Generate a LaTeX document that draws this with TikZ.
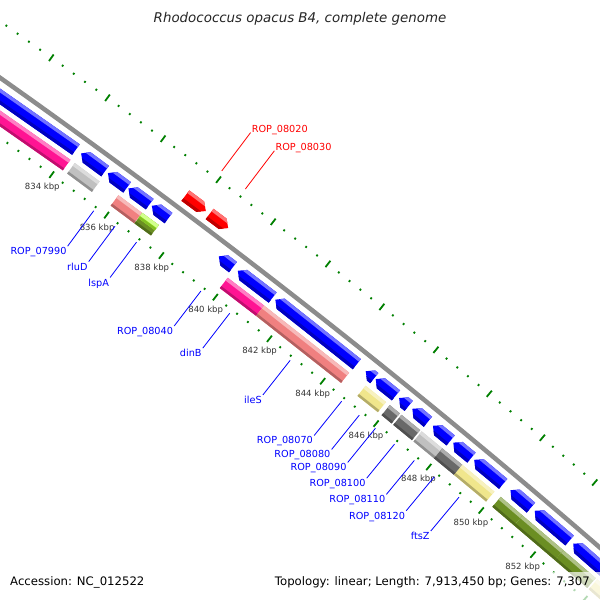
\documentclass[tikz,border=0pt]{standalone}
\usepackage{fontspec}
\setmainfont{DejaVu Sans}
\definecolor{cdsblue}{RGB}{0,0,255}
\definecolor{cdsred}{RGB}{255,0,0}
\definecolor{cogpink}{RGB}{255,20,147}
\definecolor{cogsalmon}{RGB}{240,128,128}
\definecolor{cogsilver}{RGB}{192,192,192}
\definecolor{cogdim}{RGB}{105,105,105}
\definecolor{cogkhaki}{RGB}{240,230,140}
\definecolor{cogolive}{RGB}{107,142,35}
\definecolor{coglime}{RGB}{173,255,47}
\definecolor{tickgreen}{RGB}{0,128,0}
\definecolor{backbonegray}{RGB}{140,140,140}

% bar of the COG ring: start kbp, end kbp, inner r, outer r, colour
\newcommand{\gbox}[5]{%
  \pgfmathsetmacro\gA{54.03-0.2556*(#1-834)}%
  \pgfmathsetmacro\gB{54.03-0.2556*(#2-834)}%
  \pgfmathsetmacro\gC{#4-3.5}%
  \pgfmathsetmacro\gD{#3+2.5}%
  \fill[#5] (\gA:#3) -- (\gA:#4) -- (\gB:#4) -- (\gB:#3) -- cycle;
  \fill[#5!55!white] (\gA:\gC) -- (\gA:#4) -- (\gB:#4) -- (\gB:\gC) -- cycle;
  \fill[#5!75!black] (\gA:#3) -- (\gA:\gD) -- (\gB:\gD) -- (\gB:#3) -- cycle;
}
% reverse strand gene, tip at start
\newcommand{\revgene}[3]{%
  \pgfmathsetmacro\gA{54.03-0.2556*(#1-834)}%
  \pgfmathsetmacro\gH{54.03-0.2556*(#1+0.2-834)}%
  \pgfmathsetmacro\gT{54.03-0.2556*(#1+0.1-834)}%
  \pgfmathsetmacro\gB{54.03-0.2556*(#2-834)}%
  \fill[#3] (\gA:7673.5) -- (\gH:7680) -- (\gB:7680) -- (\gB:7667) -- (\gH:7667) -- cycle;
  \fill[#3!55!white] (\gT:7676.75) -- (\gH:7680) -- (\gB:7680) -- (\gB:7676.75) -- cycle;
  \fill[#3!75!black] (\gT:7670.25) -- (\gH:7667) -- (\gB:7667) -- (\gB:7670.25) -- cycle;
}
% forward strand gene, tip at end
\newcommand{\fwdgene}[3]{%
  \pgfmathsetmacro\gA{54.03-0.2556*(#1-834)}%
  \pgfmathsetmacro\gB{54.03-0.2556*(#2-834)}%
  \pgfmathsetmacro\gH{54.03-0.2556*(#2-0.2-834)}%
  \pgfmathsetmacro\gT{54.03-0.2556*(#2-0.1-834)}%
  \fill[#3] (\gA:7695) -- (\gA:7708) -- (\gH:7708) -- (\gB:7701.5) -- (\gH:7695) -- cycle;
  \fill[#3!55!white] (\gA:7704.75) -- (\gA:7708) -- (\gH:7708) -- (\gT:7704.75) -- cycle;
  \fill[#3!75!black] (\gA:7695) -- (\gA:7698.25) -- (\gT:7698.25) -- (\gH:7695) -- cycle;
}

\tikzset{
  majortick/.style={tickgreen, line width=1.8},
  minortick/.style={tickgreen, line width=1.8},
  kbplabel/.style={text=black!80, font=\fontsize{8.5}{10}\selectfont, inner sep=0},
  bluename/.style={text=cdsblue, font=\fontsize{9.7}{11}\selectfont, inner sep=1pt, anchor=north east},
  redname/.style={text=cdsred, font=\fontsize{9.7}{11}\selectfont, inner sep=1pt, anchor=base west},
  bluelink/.style={cdsblue, line width=0.8},
  redlink/.style={cdsred, line width=0.8},
  legend/.style={text=black, font=\fontsize{11.7}{14}\selectfont, inner sep=0}
}

\begin{document}
\begin{tikzpicture}[x=1pt,y=1pt]
\useasboundingbox (0,0) rectangle (600,600);
\fill[white] (0,0) rectangle (600,600);
\begin{scope}
\clip (0,0) rectangle (600,600);
\begin{scope}[shift={(-4435,-5757)}]
% COG ring
\gbox{826}{834.19}{7649}{7662}{cogpink}
\gbox{834.35}{835.25}{7649}{7662}{cogsilver}
\gbox{835.93}{836.79}{7649}{7662}{cogsalmon}
\gbox{836.80}{837.40}{7649}{7662}{cogolive}
\gbox{836.80}{837.40}{7655.5}{7662}{coglime}
\gbox{839.94}{841.28}{7649}{7662}{cogpink}
\gbox{841.28}{844.45}{7649}{7662}{cogsalmon}
\gbox{845.06}{845.83}{7649}{7662}{cogkhaki}
\gbox{845.97}{846.35}{7649}{7662}{cogdim}
\gbox{846.41}{847.12}{7649}{7662}{cogdim}
\gbox{847.18}{847.96}{7649}{7662}{cogsilver}
\gbox{847.96}{848.72}{7649}{7662}{cogdim}
\gbox{848.72}{849.94}{7649}{7662}{cogkhaki}
\gbox{850.18}{851.02}{7649}{7662}{cogolive}
\gbox{851.02}{852.59}{7649}{7662}{cogolive}
\gbox{852.59}{853.84}{7649}{7662}{cogolive}
\gbox{853.90}{856}{7649}{7662}{cogkhaki}
% reverse strand
\revgene{826}{834.14}{cdsblue}
\revgene{834.33}{835.20}{cdsblue}
\revgene{835.30}{836.00}{cdsblue}
\revgene{836.05}{836.82}{cdsblue}
\revgene{836.90}{837.51}{cdsblue}
\revgene{839.35}{839.87}{cdsblue}
\revgene{840.05}{841.33}{cdsblue}
\revgene{841.43}{844.47}{cdsblue}
\revgene{844.80}{845.12}{cdsblue}
\revgene{845.17}{845.93}{cdsblue}
\revgene{846.05}{846.41}{cdsblue}
\revgene{846.55}{847.14}{cdsblue}
\revgene{847.33}{848.00}{cdsblue}
\revgene{848.10}{848.79}{cdsblue}
\revgene{848.89}{849.99}{cdsblue}
\revgene{850.27}{851.06}{cdsblue}
\revgene{851.20}{852.54}{cdsblue}
\revgene{852.68}{856}{cdsblue}
% forward strand
\fwdgene{837.51}{838.25}{cdsred}
\fwdgene{838.39}{839.07}{cdsred}
% backbone
\draw[backbonegray, line width=4.5] (55.6:7688) arc[start angle=55.6, end angle=48.4, radius=7688pt];
% ticks, inner and outer
\foreach \i in {0,...,80}{
  \pgfmathsetmacro\ta{54.03-0.2556*(826+0.4*\i-834)}
  \pgfmathtruncatemacro\tm{mod(\i,5)}
  \ifnum\tm=0
    \draw[majortick] (\ta:7635) -- (\ta:7643);
    \draw[majortick] (\ta:7730) -- (\ta:7738);
  \else
    \draw[minortick] (\ta:7638) -- (\ta:7640);
    \draw[minortick] (\ta:7733) -- (\ta:7735);
  \fi
}
\foreach \k in {834,836,...,852}
  \node[kbplabel] (t\k) at ({54.03-0.2556*(\k-834)}:7623) {\k\ kbp};
% gene labels
\foreach \k/\n/\t in {835.62/g07990/ROP\_07990, 836.39/rluD/rluD, 837.18/lspA/lspA,
    839.55/g08040/ROP\_08040, 840.62/dinB/dinB, 842.87/ileS/ileS,
    844.80/g08070/ROP\_08070, 845.46/g08080/ROP\_08080, 846.07/g08090/ROP\_08090,
    846.80/g08100/ROP\_08100, 847.55/g08110/ROP\_08110, 848.31/g08120/ROP\_08120,
    849.25/ftsZ/ftsZ}{
  \pgfmathsetmacro\la{54.03-0.2556*(\k-834)}
  \node[bluename] (\n) at (\la:7591) {\t};
  \coordinate (\n-g) at (\la:7635);
  \draw[bluelink] (\n.north east) -- (\n-g);
}
\foreach \k/\n/\t in {837.92/g08020/ROP\_08020, 838.78/g08030/ROP\_08030}{
  \pgfmathsetmacro\la{54.03-0.2556*(\k-834)}
  \node[redname] (\n) at (\la:7791) {\t};
  \coordinate (\n-g) at (\la:7743);
  \draw[redlink] (\n.base west) -- (\n-g);
}
\end{scope}
\end{scope}
% title and legend
\node[legend, font=\fontsize{13.4}{16}\selectfont\itshape, text=black!85, anchor=base] (title) at (300,577.3) {Rhodococcus opacus B4, complete genome};
\fill[white, opacity=0.7] (266,0) rectangle (600,28);
\node[legend, anchor=base west] (access) at (10,14) {Accession: NC\_012522};
\node[legend, anchor=base east] (topo) at (590,14) {Topology: linear; Length: 7,913,450 bp; Genes: 7,307};
\end{tikzpicture}
\end{document}
